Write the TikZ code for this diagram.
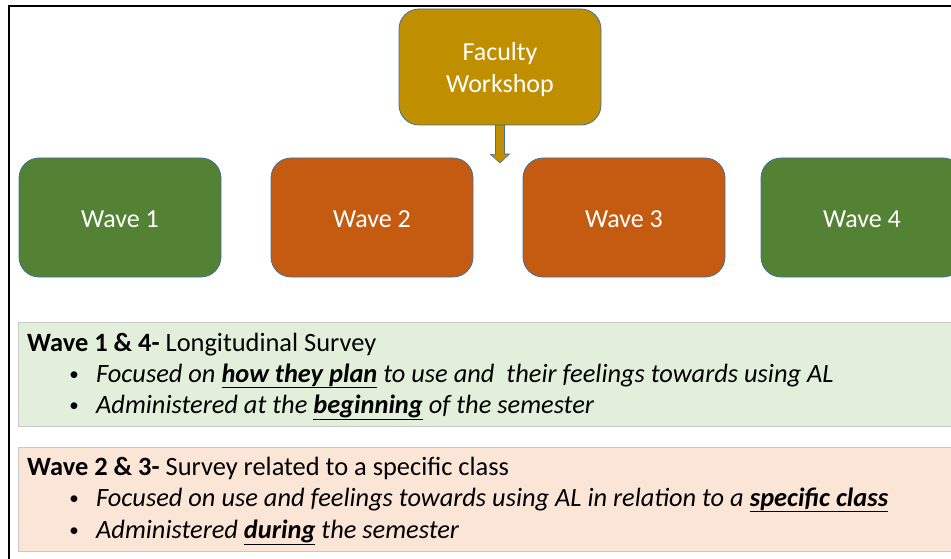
\documentclass[tikz,border=0pt]{standalone}
\usepackage{fontspec}
\setmainfont{Carlito}
\definecolor{fwcol}{HTML}{BF8F00}
\definecolor{greencol}{HTML}{548235}
\definecolor{orangecol}{HTML}{C55A11}
\definecolor{outlinecol}{HTML}{41719C}
\definecolor{greenbg}{HTML}{E2EFDA}
\definecolor{orangebg}{HTML}{FBE5D6}
\definecolor{panelborder}{HTML}{C8C8C8}
\tikzset{
  wavebox/.style={draw=outlinecol, line width=0.8pt, rounded corners=20pt,
    minimum width=202pt, minimum height=119pt, text=white,
    font=\fontsize{26}{32}\selectfont, inner sep=0pt},
  fwbox/.style={wavebox, fill=fwcol, minimum height=116pt},
  greenwave/.style={wavebox, fill=greencol},
  orangewave/.style={wavebox, fill=orangecol},
  blockarrow/.style={fill=fwcol, draw=outlinecol, line width=0.6pt},
  panel/.style={draw=panelborder, line width=0.7pt},
  txt/.style={anchor=base west, inner sep=0pt, font=\fontsize{26.4}{32}\selectfont},
  bul/.style={anchor=base, inner sep=0pt, font=\fontsize{19}{20}\selectfont},
  frame/.style={line width=2.4pt, black}
}
\newcommand{\ubf}[1]{\underline{\textbf{#1}}}
\newcommand{\wlabel}[1]{\raisebox{-2pt}[\height][\depth]{#1}}
\begin{document}
\begin{tikzpicture}[x=1pt, y=-1pt]
\useasboundingbox (0,0) rectangle (951,559);
\clip (0,0) rectangle (951,559);
% frame
\draw[frame] (955,6) -- (9,6) -- (9,562);
% panels
\fill[greenbg] (18,322) rectangle (965,426);
\draw[panel] (965,322) -- (18,322) -- (18,426) -- (965,426);
\fill[orangebg] (18,447) rectangle (965,551);
\draw[panel] (965,447) -- (18,447) -- (18,551) -- (965,551);
% top box
\node[fwbox] (fw) at (500,67) {\raisebox{-3pt}[\height][\depth]{\setlength{\tabcolsep}{0pt}\begin{tabular}{c}Faculty\\Workshop\end{tabular}}};
\coordinate (tip) at (500,163);
\draw[blockarrow] (fw.south) ++(-4.5,0) -- ++(0,29) -- ++(-5,0) -- (tip)
  -- ++(9.5,-9) -- ++(-5,0) -- ++(0,-29) -- cycle;
% waves
\node[greenwave] (w1) at (120,217.5) {\wlabel{Wave 1}};
\node[orangewave] (w2) at (372,217.5) {\wlabel{Wave 2}};
\node[orangewave] (w3) at (624,217.5) {\wlabel{Wave 3}};
\node[greenwave] (w4) at (862,217.5) {\wlabel{Wave 4}};
% green panel text
\node[txt] (g1) at (27,351) {\textbf{Wave 1 \& 4-} Longitudinal Survey};
\node[bul] (g2b) at (74,380) {•};
\node[txt] (g2) at (96,382) {\textit{Focused on \ubf{how they plan} to use and\ \ their feelings towards using AL}};
\node[bul] (g3b) at (74,411) {•};
\node[txt] (g3) at (96,413) {\textit{Administered at the \ubf{beginning} of the semester}};
% orange panel text
\node[txt] (o1) at (27,475) {\textbf{Wave 2 \& 3-} Survey related to a specific class};
\node[bul] (o2b) at (74,504) {•};
\node[txt] (o2) at (96,506) {\textit{Focused on use and feelings towards using AL in relation to a \ubf{specific class}}};
\node[bul] (o3b) at (74,536) {•};
\node[txt] (o3) at (96,538) {\textit{Administered \ubf{during} the semester}};
\end{tikzpicture}
\end{document}
